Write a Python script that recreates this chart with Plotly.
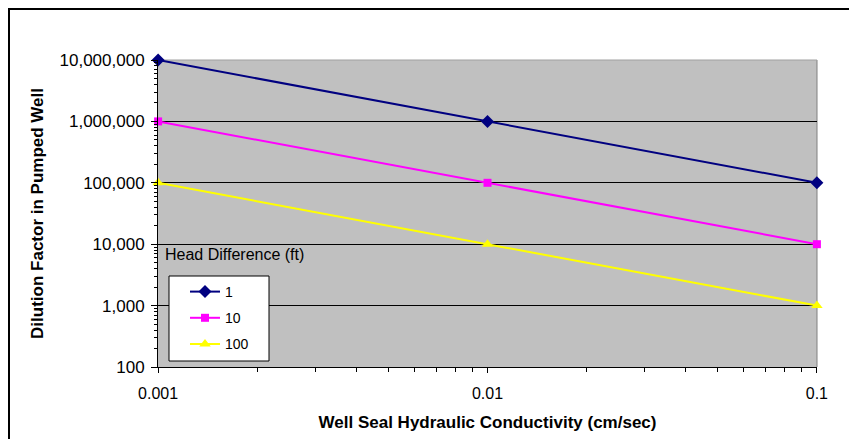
import plotly.graph_objects as go

conductivity = [0.001, 0.01, 0.1]
series_names = ["1", "10", "100"]
dilution_h1 = [10000000, 1000000, 100000]
dilution_h10 = [1000000, 100000, 10000]
dilution_h100 = [100000, 10000, 1000]
y_tickvals = [100, 1000, 10000, 100000, 1000000, 10000000]
y_ticktext = ["100", "1,000", "10,000", "100,000", "1,000,000", "10,000,000"]
x_tickvals = [0.001, 0.01, 0.1]
x_ticktext = ["0.001", "0.01", "0.1"]
minor_steps = [2, 3, 4, 5, 6, 7, 8, 9]

x_minor = [d * m for d in [0.001, 0.01] for m in minor_steps]
y_minor = [d * m for d in [100, 1000, 10000, 100000, 1000000] for m in minor_steps]

FONT = "Liberation Sans, Arial, sans-serif"

# page body has an 8px margin; figure is sized/placed to compensate
W, H = 841, 431
ML, MT = 150, 52
PW, PH = 659, 307
MR = W - ML - PW
MB = H - MT - PH
PLOT_LEFT, PLOT_BOTTOM = 158, 367  # window coords of plot-area corner


def px(xw):
    return (xw - PLOT_LEFT) / PW


def py(yw):
    return (PLOT_BOTTOM - yw) / PH


fig = go.Figure()
styles = [
    (dilution_h1, "#000080", "diamond", 10),
    (dilution_h10, "#FF00FF", "square", 8),
    (dilution_h100, "#FFFF00", "triangle-up", 10),
]
for name, (vals, color, sym, size) in zip(series_names, styles):
    fig.add_trace(go.Scatter(
        x=conductivity, y=vals, name=name, mode="lines+markers",
        legendgroup=name,
        line=dict(color=color, width=2),
        marker=dict(symbol=sym, size=size, color=color),
        cliponaxis=False,
    ))

fig.update_layout(
    width=W, height=H,
    margin=dict(l=ML, r=MR, t=MT, b=MB),
    paper_bgcolor="white",
    plot_bgcolor="#C0C0C0",
    font=dict(family=FONT, size=16, color="black"),
    showlegend=True,
    legend=dict(
        x=px(185), y=py(276), xanchor="left", yanchor="top",
        bgcolor="rgba(0,0,0,0)", borderwidth=0,
        font=dict(family=FONT, size=14),
        traceorder="grouped", tracegroupgap=5,
        itemwidth=30,
    ),
    xaxis=dict(
        type="log", range=[-3.0003, -0.9997],
        tickvals=x_tickvals, ticktext=x_ticktext,
        showgrid=False, zeroline=False, automargin=False,
        showline=True, linecolor="black", linewidth=1,
        ticks="outside", ticklen=5, tickcolor="black",
        ticklabelstandoff=7,
        minor=dict(tickmode="array", tickvals=x_minor, ticks="outside",
                   ticklen=4, tickcolor="black", showgrid=False),
        title=dict(text="<b>Well Seal Hydraulic Conductivity (cm/sec)</b>",
                   font=dict(family=FONT, size=17), standoff=14),
        tickfont=dict(family=FONT, size=16),
    ),
    yaxis=dict(
        type="log", range=[2, 7],
        tickvals=y_tickvals, ticktext=y_ticktext,
        showgrid=True, gridcolor="black", gridwidth=1,
        zeroline=False, automargin=False,
        showline=True, linecolor="black", linewidth=1,
        ticks="outside", ticklen=6, tickcolor="black",
        ticklabelstandoff=3,
        minor=dict(tickmode="array", tickvals=y_minor, ticks="outside",
                   ticklen=3, tickcolor="black", showgrid=False),
        title=dict(text="<b>Dilution Factor in Pumped Well</b>",
                   font=dict(family=FONT, size=17), standoff=11),
        tickfont=dict(family=FONT, size=17),
    ),
)

# right/top plot-area edge
fig.add_shape(type="line", xref="paper", yref="paper", x0=1, x1=1, y0=0, y1=1,
              line=dict(color="#808080", width=1), layer="below")
fig.add_shape(type="line", xref="paper", yref="paper", x0=0, x1=1, y0=1, y1=1,
              line=dict(color="#A0A0A0", width=1), layer="below")

# legend box (white panel with black border)
fig.add_shape(type="rect", xref="paper", yref="paper",
              x0=px(169), x1=px(269), y0=py(361), y1=py(276),
              line=dict(color="black", width=1), fillcolor="white", layer="above")

# outer chart border (only top and left edges are visible in the frame)
fig.add_shape(type="rect", xref="paper", yref="paper",
              x0=-(ML - 1) / PW, x1=1 + (MR + 20) / PW,
              y0=-(MB + 20) / PH, y1=1 + (MT - 1) / PH,
              line=dict(color="black", width=2), fillcolor="rgba(0,0,0,0)", layer="below")

fig.add_annotation(
    text="Head Difference (ft)", xref="paper", yref="paper",
    x=px(163), y=py(254), xanchor="left", yanchor="middle",
    showarrow=False, font=dict(family=FONT, size=16, color="black"),
)

fig.write_html("out.html")
